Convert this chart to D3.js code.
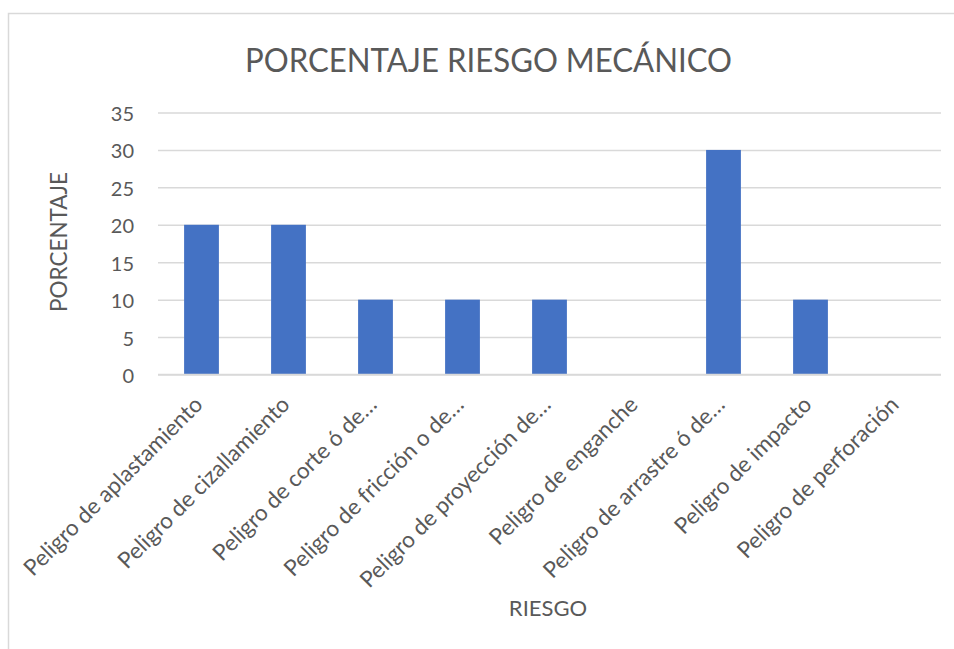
<!DOCTYPE html>
<html>
<head>
<meta charset="utf-8">
<script src="https://cdn.jsdelivr.net/npm/d3@7/dist/d3.min.js"></script>
<style>
  html, body { margin: 0; padding: 0; background: #fff; }
  svg { display: block; }
  text { font-family: Lato, "Open Sans", sans-serif; fill: #595959; }
</style>
</head>
<body>
<svg id="chart" width="954" height="649"></svg>
<script>
const categories = [
  "Peligro de aplastamiento",
  "Peligro de cizallamiento",
  "Peligro de corte ó de…",
  "Peligro de fricción o de…",
  "Peligro de proyección de…",
  "Peligro de enganche",
  "Peligro de arrastre ó de…",
  "Peligro de impacto",
  "Peligro de perforación"
];
const values = [20, 20, 10, 10, 10, 0, 30, 10, 0];
const yTicks = [0, 5, 10, 15, 20, 25, 30, 35];
const titleText = "PORCENTAJE RIESGO MECÁNICO";
const yTitle = "PORCENTAJE";
const xTitle = "RIESGO";

const svg = d3.select("#chart");
const plot = { left: 158, right: 941, top: 112.5, bottom: 374.5 };

svg.append("rect")
  .attr("x", 8.5).attr("y", 13.5)
  .attr("width", 980).attr("height", 680)
  .attr("fill", "#fff").attr("stroke", "#d9d9d9").attr("stroke-width", 1.5);

const x = d3.scaleBand().domain(categories).range([plot.left, plot.right]).paddingInner(0.6).paddingOuter(0.3);
const y = d3.scaleLinear().domain([0, 35]).range([plot.bottom, plot.top]);

const yAxis = d3.axisLeft(y).tickValues(yTicks).tickSize(-(plot.right - plot.left)).tickPadding(24).tickFormat(d3.format("d"));
const gy = svg.append("g").attr("transform", `translate(${plot.left},0)`).call(yAxis);
gy.select(".domain").remove();
gy.selectAll(".tick line").attr("stroke", "#d9d9d9").attr("stroke-width", 1.5);
gy.selectAll(".tick text").attr("font-size", 20).attr("fill", "#595959").attr("font-family", "Lato, 'Open Sans', sans-serif").attr("dy", "0.4em");

svg.append("g").selectAll("rect").data(values).join("rect")
  .attr("x", (d, i) => x(categories[i]))
  .attr("width", x.bandwidth())
  .attr("y", d => y(d))
  .attr("height", d => y(0) - y(d))
  .attr("fill", "#4472c4");

svg.append("line").attr("x1", plot.left).attr("x2", plot.right)
  .attr("y1", y(0)).attr("y2", y(0)).attr("stroke", "#d9d9d9").attr("stroke-width", 1.5);

const xAxis = d3.axisBottom(x).tickSize(0).tickPadding(0);
const gx = svg.append("g").attr("transform", `translate(0,${plot.bottom})`).call(xAxis);
gx.select(".domain").remove();
gx.selectAll(".tick text")
  .attr("font-size", 22.5)
  .attr("fill", "#595959")
  .attr("font-family", "Lato, 'Open Sans', sans-serif")
  .attr("text-anchor", "end")
  .attr("transform", "translate(-3,26) rotate(-45)")
  .attr("dy", "0.35em");

svg.append("text").attr("x", 488.5).attr("y", 72)
  .attr("text-anchor", "middle").attr("font-size", 33)
  .attr("textLength", 487).attr("lengthAdjust", "spacingAndGlyphs").text(titleText);

svg.append("text").attr("transform", "translate(67,242) rotate(-90)")
  .attr("text-anchor", "middle").attr("font-size", 22.5).text(yTitle);

svg.append("text").attr("x", 548).attr("y", 616)
  .attr("text-anchor", "middle").attr("font-size", 22).text(xTitle);
</script>
</body>
</html>
